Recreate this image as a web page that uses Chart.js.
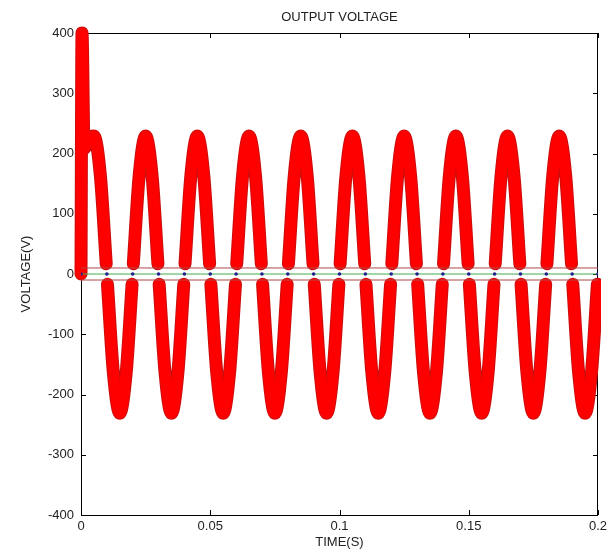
<!DOCTYPE html>
<html>
<head>
<meta charset="utf-8">
<script src="https://cdn.jsdelivr.net/npm/chart.js@4.4.1/dist/chart.umd.min.js"></script>
<style>
  html, body { margin: 0; padding: 0; background: #ffffff; }
  #wrap { width: 616px; height: 552px; }
</style>
</head>
<body>
<div id="wrap"><canvas id="c" width="616" height="552"></canvas></div>
<script>
// ---- data ----
const waveTime = [
  0, 0.0004, 0.0012, 0.003, 0.005, 0.0075, 0.00976, 0.01,
  0.01024, 0.0125, 0.015, 0.0175, 0.01976, 0.02,
  0.02024, 0.0225, 0.025, 0.0275, 0.02976, 0.03,
  0.03024, 0.0325, 0.035, 0.0375, 0.03976, 0.04,
  0.04024, 0.0425, 0.045, 0.0475, 0.04976, 0.05,
  0.05024, 0.0525, 0.055, 0.0575, 0.05976, 0.06,
  0.06024, 0.0625, 0.065, 0.0675, 0.06976, 0.07,
  0.07024, 0.0725, 0.075, 0.0775, 0.07976, 0.08,
  0.08024, 0.0825, 0.085, 0.0875, 0.08976, 0.09,
  0.09024, 0.0925, 0.095, 0.0975, 0.09976, 0.1,
  0.10024, 0.1025, 0.105, 0.1075, 0.10976, 0.11,
  0.11024, 0.1125, 0.115, 0.1175, 0.11976, 0.12,
  0.12024, 0.1225, 0.125, 0.1275, 0.12976, 0.13,
  0.13024, 0.1325, 0.135, 0.1375, 0.13976, 0.14,
  0.14024, 0.1425, 0.145, 0.1475, 0.14976, 0.15,
  0.15024, 0.1525, 0.155, 0.1575, 0.15976, 0.16,
  0.16024, 0.1625, 0.165, 0.1675, 0.16976, 0.17,
  0.17024, 0.1725, 0.175, 0.1775, 0.17976, 0.18,
  0.18024, 0.1825, 0.185, 0.1875, 0.18976, 0.19,
  0.19024, 0.1925, 0.195, 0.1975, 0.19976
];
const waveVolt = [
  0, 400, 208, 224, 229, 163, 17, null,
  -17, -163, -231, -163, -17, null,
  17, 163, 229, 163, 17, null,
  -17, -163, -231, -163, -17, null,
  17, 163, 229, 163, 17, null,
  -17, -163, -231, -163, -17, null,
  17, 163, 229, 163, 17, null,
  -17, -163, -231, -163, -17, null,
  17, 163, 229, 163, 17, null,
  -17, -163, -231, -163, -17, null,
  17, 163, 229, 163, 17, null,
  -17, -163, -231, -163, -17, null,
  17, 163, 229, 163, 17, null,
  -17, -163, -231, -163, -17, null,
  17, 163, 229, 163, 17, null,
  -17, -163, -231, -163, -17, null,
  17, 163, 229, 163, 17, null,
  -17, -163, -231, -163, -17, null,
  17, 163, 229, 163, 17, null,
  -17, -163, -231, -163, -17
];
const crossTime = [0, 0.01, 0.02, 0.03, 0.04, 0.05, 0.06, 0.07, 0.08, 0.09, 0.1,
                   0.11, 0.12, 0.13, 0.14, 0.15, 0.16, 0.17, 0.18, 0.19, 0.2];
const crossVolt = [0, 0, 0, 0, 0, 0, 0, 0, 0, 0, 0, 0, 0, 0, 0, 0, 0, 0, 0, 0, 0];
const bandTime = [0, 0.2];
const upperBand = [10, 10];
const zeroLine = [0, 0];
const lowerBand = [-10, -10];
const xTicks = [0, 0.05, 0.1, 0.15, 0.2];
const yTicks = [-400, -300, -200, -100, 0, 100, 200, 300, 400];

const pts = (xs, ys) => xs.map((x, i) => ({ x: x, y: ys[i] }));

const FONT = "'Liberation Sans', Arial, sans-serif";
const TXT = '#222222';

const frame = {
  id: 'frame',
  beforeDatasetsDraw(chart) {
    const { ctx, chartArea: a, scales: { x, y } } = chart;
    ctx.save();
    ctx.strokeStyle = '#000000';
    ctx.lineWidth = 1;
    ctx.strokeRect(Math.round(a.left) + 0.5, Math.round(a.top) + 0.5,
                   Math.round(a.right - a.left) - 1, Math.round(a.bottom - a.top));
    ctx.beginPath();
    const tl = 5;
    xTicks.forEach(v => {
      const px = Math.round(x.getPixelForValue(v)) + 0.5;
      ctx.moveTo(px, a.bottom); ctx.lineTo(px, a.bottom - tl);
      ctx.moveTo(px, a.top); ctx.lineTo(px, a.top + tl);
    });
    yTicks.forEach(v => {
      const py = Math.round(y.getPixelForValue(v)) + 0.5;
      ctx.moveTo(a.left, py); ctx.lineTo(a.left + tl, py);
      ctx.moveTo(a.right, py); ctx.lineTo(a.right - tl, py);
    });
    ctx.stroke();
    ctx.restore();
  }
};

const waveStyle = {
  borderJoinStyle: 'round',
  borderCapStyle: 'round',
  cubicInterpolationMode: 'monotone',
  spanGaps: false,
  pointRadius: 0,
  clip: { left: 8, top: 8, right: 3, bottom: 8 }
};

new Chart(document.getElementById('c'), {
  type: 'line',
  data: {
    datasets: [
      {
        label: 'zero crossings',
        data: pts(crossTime, crossVolt),
        showLine: false,
        pointRadius: 1.8,
        pointBorderWidth: 0,
        pointBackgroundColor: '#1f1f8f'
      },
      {
        label: 'upper band',
        data: pts(bandTime, upperBand),
        borderColor: '#b04848',
        borderWidth: 1,
        pointRadius: 0
      },
      {
        label: 'zero',
        data: pts(bandTime, zeroLine),
        borderColor: '#3fae4a',
        borderWidth: 1,
        pointRadius: 0
      },
      {
        label: 'lower band',
        data: pts(bandTime, lowerBand),
        borderColor: '#b04848',
        borderWidth: 1,
        pointRadius: 0
      },
      Object.assign({
        label: 'output voltage',
        data: pts(waveTime, waveVolt),
        borderColor: '#ff0000',
        borderWidth: 11
      }, waveStyle),
      Object.assign({
        label: 'output voltage edge',
        data: pts(waveTime, waveVolt),
        borderColor: '#cc0d0d',
        borderWidth: 13
      }, waveStyle)
    ]
  },
  options: {
    responsive: false,
    animation: false,
    layout: { padding: { left: 0, right: 18, top: 0, bottom: 0 } },
    scales: {
      x: {
        type: 'linear',
        min: 0, max: 0.2,
        afterBuildTicks(s) { s.ticks = xTicks.map(v => ({ value: v })); },
        afterFit(s) { s.height = 37; },
        grid: { display: false, drawTicks: false },
        border: { display: false },
        ticks: {
          color: TXT, padding: 4, maxRotation: 0,
          font: { family: FONT, size: 13 },
          callback: v => String(+(+v).toFixed(2))
        },
        title: {
          display: true, text: 'TIME(S)', color: TXT,
          font: { family: FONT, size: 13 },
          padding: { top: 0, bottom: 2 }
        }
      },
      y: {
        type: 'linear',
        min: -400, max: 400,
        afterBuildTicks(s) { s.ticks = yTicks.map(v => ({ value: v })); },
        afterFit(s) { s.width = 81; },
        grid: { display: false, drawTicks: false },
        border: { display: false },
        ticks: {
          color: TXT, padding: 7,
          font: { family: FONT, size: 13 }
        },
        title: {
          display: true, text: 'VOLTAGE(V)', color: TXT,
          font: { family: FONT, size: 13 },
          padding: { top: 19, bottom: 0 }
        }
      }
    },
    plugins: {
      legend: { display: false },
      tooltip: { enabled: false },
      title: {
        display: true, text: 'OUTPUT VOLTAGE', color: TXT,
        fullSize: false,
        font: { family: FONT, size: 13, weight: 'normal' },
        padding: { top: 10, bottom: 7.4 }
      }
    }
  },
  plugins: [frame]
});
</script>
</body>
</html>
